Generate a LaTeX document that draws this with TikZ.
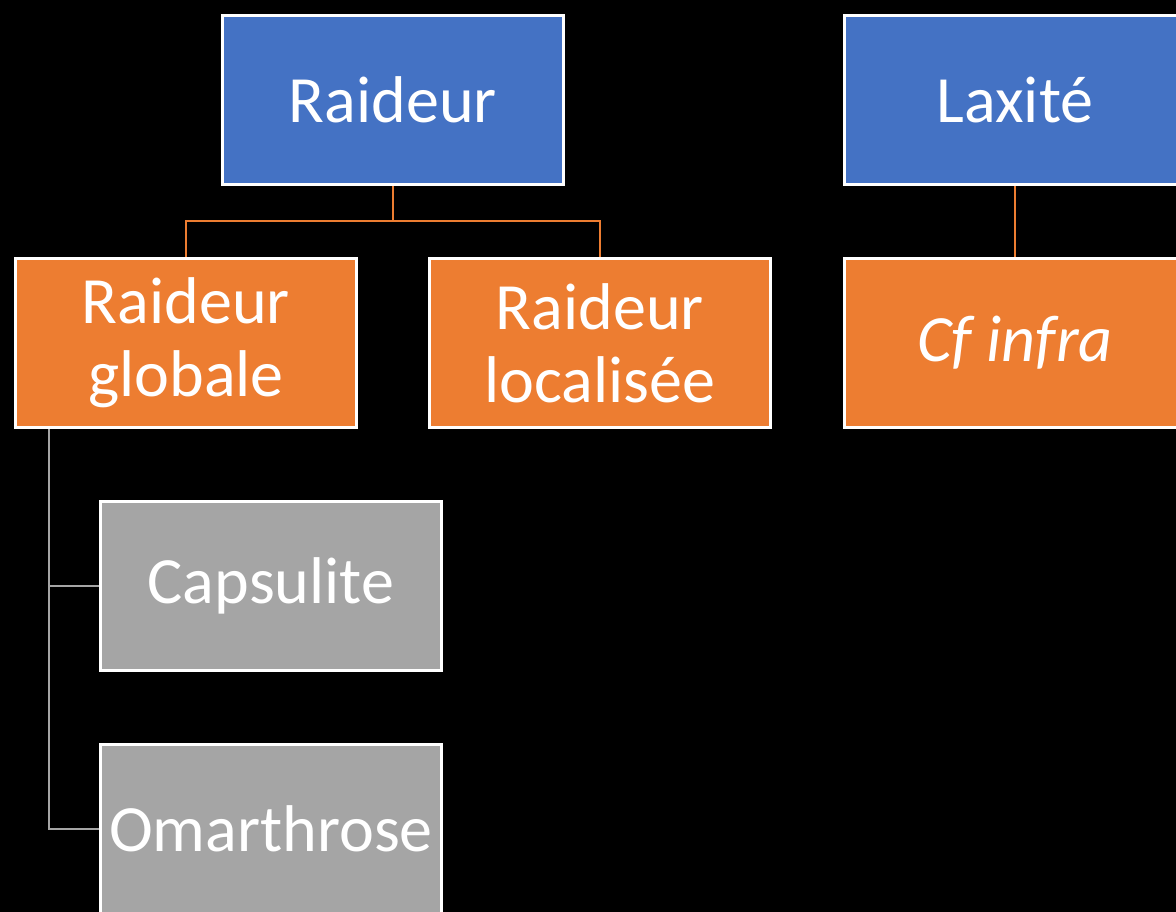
\documentclass[tikz,border=0pt]{standalone}
\usepackage{fontspec}
\setmainfont{Carlito}
\usetikzlibrary{backgrounds}

\definecolor{boxblue}{HTML}{4472C4}
\definecolor{boxorange}{HTML}{ED7D31}
\definecolor{boxgray}{HTML}{A5A5A5}

\begin{document}
\begin{tikzpicture}[x=0.025cm, y=-0.025cm,
  box/.style={draw=white, line width=1.8pt, text=white, align=center, inner sep=0pt,
    minimum width=8.53cm, minimum height=4.23cm, font=\fontsize{47}{52}\selectfont},
  bluebox/.style={box, fill=boxblue},
  orangebox/.style={box, fill=boxorange},
  graybox/.style={box, fill=boxgray},
  orangeline/.style={draw=boxorange, line width=1.2pt},
  grayline/.style={draw=boxgray, line width=1.3pt}]

\useasboundingbox (0,0) rectangle (1176,912);
\clip (0,0) rectangle (1176,912);

\node[bluebox] (raideur) at (393,100)   {Raideur};
\node[bluebox] (laxite)  at (1015,100)  {Laxité};

\node[orangebox] (globale)   at (186,343)  {Raideur\\globale};
\node[orangebox] (localisee) at (600,343)  {Raideur\\localisée};
\node[orangebox] (cfinfra)   at (1015,343) {\itshape Cf infra};

\node[graybox] (capsulite)  at (271,586) {Capsulite};
\node[graybox] (omarthrose) at (271,829) {Omarthrose};

\coordinate (split) at (393,221);
\coordinate (trunk) at (49,429);

\begin{scope}[on background layer]
\fill[black] (0,0) rectangle (1176,912);
\draw[orangeline] (raideur.south) -- (split) -| (globale.north);
\draw[orangeline] (split) -| (localisee.north);
\draw[orangeline] (laxite.south) -- (cfinfra.north);
\draw[grayline] (trunk) |- (capsulite.west);
\draw[grayline] (trunk) |- (omarthrose.west);
\end{scope}
\end{tikzpicture}
\end{document}
